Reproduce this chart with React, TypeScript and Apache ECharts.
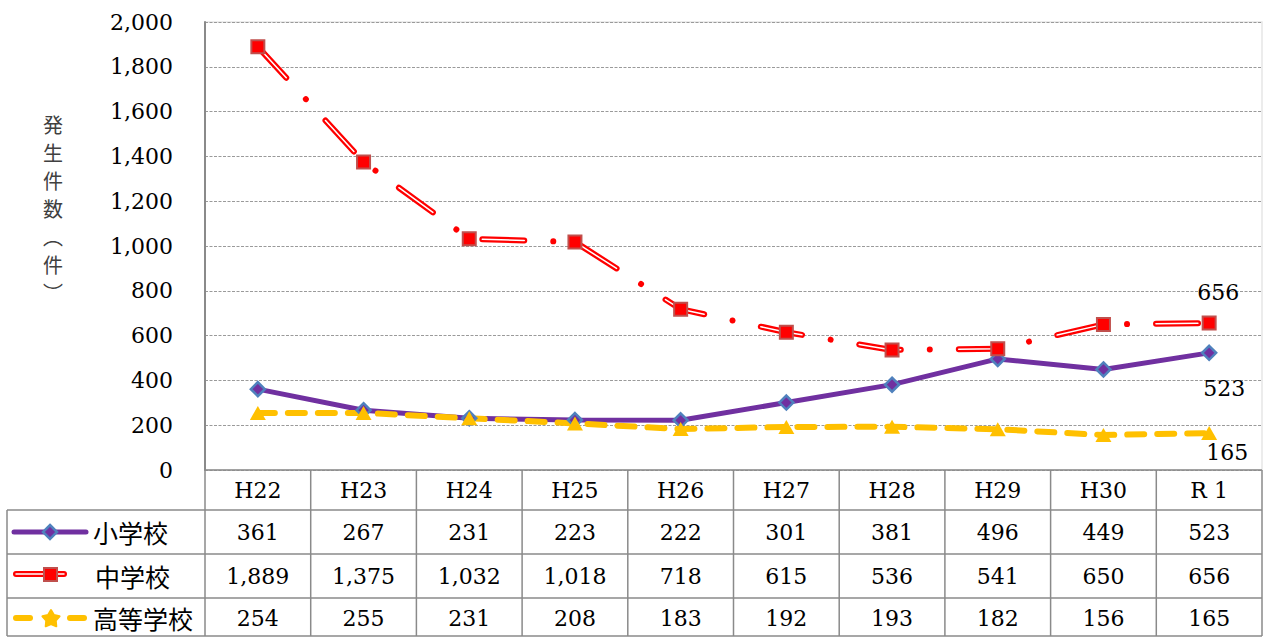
import React, { useEffect, useRef } from "react";
import * as echarts from "echarts";

const categories = ["H22", "H23", "H24", "H25", "H26", "H27", "H28", "H29", "H30", "R 1"];
const elementary = [361, 267, 231, 223, 222, 301, 381, 496, 449, 523];
const juniorHigh = [1889, 1375, 1032, 1018, 718, 615, 536, 541, 650, 656];
const highSchool = [254, 255, 231, 208, 183, 192, 193, 182, 156, 165];
const seriesNames = ["小学校", "中学校", "高等学校"];
const yAxisNameChars = ["発", "生", "件", "数", "︵", "件", "︶"];
const yMin = 0;
const yMax = 2000;
const yInterval = 200;

const W = 1263;
const H = 637;
const GL = 205;
const GT = 22;
const GW = 1057;
const GH = 448;
const SERIF = '"DejaVu Serif", "Liberation Serif", serif';
const CJK = '"Noto Sans CJK JP", "Noto Sans", sans-serif';
const PURPLE = "#7030A0";
const RED = "#FF0000";
const YELLOW = "#FFC000";
const LINE_C = "#8a8a8a";

const fmt = (v: number) => v.toLocaleString("en-US");

function lastLabel(arr: number[], label: any) {
  return arr.map((v, i) => (i === arr.length - 1 ? { value: v, label: { show: true, ...label } } : v));
}

function buildGraphics() {
  const g: any[] = [];
  const colW = GW / categories.length;
  const right = GL + GW;
  const rowTops = [470, 510, 554, 598, 636];
  const rowCenters = [490, 532, 576, 618];
  const leftX = 7;
  const line = (x1: number, y1: number, x2: number, y2: number, stroke = LINE_C, lw = 1.5) =>
    g.push({ type: "line", silent: true, z: 10, shape: { x1, y1, x2, y2 }, style: { stroke, lineWidth: lw } });

  // table horizontal lines
  line(GL, rowTops[0], right, rowTops[0]);
  for (let r = 1; r < rowTops.length; r++) line(leftX, rowTops[r], right, rowTops[r]);
  // vertical lines
  for (let i = 0; i <= categories.length; i++) {
    const x = GL + i * colW;
    line(x, rowTops[0], x, rowTops[rowTops.length - 1]);
  }
  line(leftX, rowTops[1], leftX, rowTops[rowTops.length - 1]);

  const text = (x: number, y: number, t: string, font: string, size: number, align = "center", fill = "#000") =>
    g.push({
      type: "text",
      silent: true,
      z: 11,
      x,
      y,
      style: { text: t, fontFamily: font, fontSize: size, fill, align, verticalAlign: "middle", lineHeight: size },
    });

  categories.forEach((c, i) => text(GL + (i + 0.5) * colW, rowCenters[0], c, SERIF, 22));
  [elementary, juniorHigh, highSchool].forEach((arr, r) => {
    arr.forEach((v, i) => text(GL + (i + 0.5) * colW, rowCenters[r + 1], fmt(v), SERIF, 22));
  });

  // legend keys
  const y1 = rowCenters[1];
  g.push({ type: "line", z: 11, shape: { x1: 14, y1, x2: 86, y2: y1 }, style: { stroke: PURPLE, lineWidth: 5, lineCap: "round" } });
  g.push({
    type: "polygon",
    z: 12,
    shape: { points: [[50, y1 - 7], [57, y1], [50, y1 + 7], [43, y1]] },
    style: { fill: PURPLE, stroke: "#4F81BD", lineWidth: 2.5 },
  });
  text(93, y1, seriesNames[0], CJK, 25, "left");

  const y2 = rowCenters[2] - 2;
  g.push({ type: "line", z: 11, shape: { x1: 16, y1: y2, x2: 64, y2 }, style: { stroke: RED, lineWidth: 6, lineCap: "round" } });
  g.push({ type: "line", z: 12, shape: { x1: 16, y1: y2, x2: 64, y2 }, style: { stroke: "#fff", lineWidth: 1.5, lineCap: "round" } });
  g.push({ type: "rect", z: 13, shape: { x: 44, y: y2 - 6, width: 13, height: 13 }, style: { fill: RED, stroke: "#C0504D", lineWidth: 2 } });
  text(95, rowCenters[2], seriesNames[1], CJK, 25, "left");

  const y3 = rowCenters[3];
  g.push({ type: "line", z: 11, shape: { x1: 16, y1: y3, x2: 30, y2: y3 }, style: { stroke: YELLOW, lineWidth: 6, lineCap: "round" } });
  g.push({ type: "line", z: 11, shape: { x1: 70, y1: y3, x2: 84, y2: y3 }, style: { stroke: YELLOW, lineWidth: 6, lineCap: "round" } });
  const star: number[][] = [];
  for (let k = 0; k < 10; k++) {
    const a = -Math.PI / 2 + (k * Math.PI) / 5;
    const rr = k % 2 === 0 ? 9 : 5;
    star.push([51 + rr * Math.cos(a), y3 + 1 + rr * Math.sin(a)]);
  }
  g.push({ type: "polygon", z: 12, shape: { points: star }, style: { fill: YELLOW, stroke: YELLOW, lineWidth: 2, lineJoin: "round" } });
  text(93, y3, seriesNames[2], CJK, 25, "left");

  // y axis name (vertical)
  const ys = [124, 152, 180, 208, 236, 264, 292];
  yAxisNameChars.forEach((c, i) => text(53, ys[i], c, CJK, 20, "center", "#404040"));

  return g;
}

export default function App() {
  const ref = useRef<HTMLDivElement>(null);
  useEffect(() => {
    if (!ref.current) return;
    const chart = echarts.init(ref.current, undefined, { renderer: "svg" });
    const labelFont = { fontFamily: SERIF, fontSize: 22, color: "#000" };
    chart.setOption({
      animation: false,
      backgroundColor: "#fff",
      grid: { left: GL, top: GT, width: GW, height: GH, show: true, borderColor: "#e6e6e6", borderWidth: 1.5 },
      xAxis: {
        type: "category",
        data: categories,
        boundaryGap: true,
        axisLabel: { show: false },
        axisLine: { show: false },
        axisTick: { show: false },
        splitLine: { show: false },
      },
      yAxis: {
        type: "value",
        min: yMin,
        max: yMax,
        interval: yInterval,
        axisLabel: { formatter: (v: number) => fmt(v), fontFamily: SERIF, fontSize: 22, color: "#000", margin: 32 },
        axisLine: { show: true, lineStyle: { color: "#8a8a8a", width: 2 } },
        axisTick: { show: false },
        splitLine: { show: true, lineStyle: { color: "#9a9a9a", width: 1, type: [3, 1.5] } },
      },
      series: [
        {
          name: seriesNames[0],
          type: "line",
          data: lastLabel(elementary, { position: "bottom", distance: 16, offset: [15, 0], ...labelFont }),
          symbol: "diamond",
          symbolSize: 14,
          lineStyle: { color: PURPLE, width: 5 },
          itemStyle: { color: PURPLE, borderColor: "#4F81BD", borderWidth: 2.5 },
          label: { show: false },
        },
        {
          name: seriesNames[1],
          type: "line",
          data: juniorHigh,
          symbol: "none",
          lineStyle: { color: RED, width: 6, type: [42, 29, 0.01, 29], cap: "round" },
        },
        {
          name: seriesNames[1] + "_inner",
          type: "line",
          data: juniorHigh,
          symbol: "none",
          lineStyle: { color: "#fff", width: 1.5, type: [42, 58], cap: "round" },
        },
        {
          name: seriesNames[1] + "_marks",
          type: "line",
          data: lastLabel(juniorHigh, { position: "top", distance: 12, offset: [9, 0], ...labelFont }),
          symbol: "rect",
          symbolSize: 13,
          lineStyle: { width: 0, opacity: 0 },
          itemStyle: { color: RED, borderColor: "#C0504D", borderWidth: 2 },
          label: { show: false },
        },
        {
          name: seriesNames[2],
          type: "line",
          data: lastLabel(highSchool, { position: "bottom", distance: 1, offset: [18, 0], ...labelFont }),
          symbol: "triangle",
          symbolSize: [16, 14],
          lineStyle: { color: YELLOW, width: 6, type: [17, 13], cap: "round" },
          itemStyle: { color: YELLOW, borderWidth: 0 },
          label: { show: false },
        },
      ],
      graphic: buildGraphics(),
    });
    return () => chart.dispose();
  }, []);
  return <div ref={ref} style={{ position: "absolute", left: 0, top: 0, width: W, height: H }} />;
}
